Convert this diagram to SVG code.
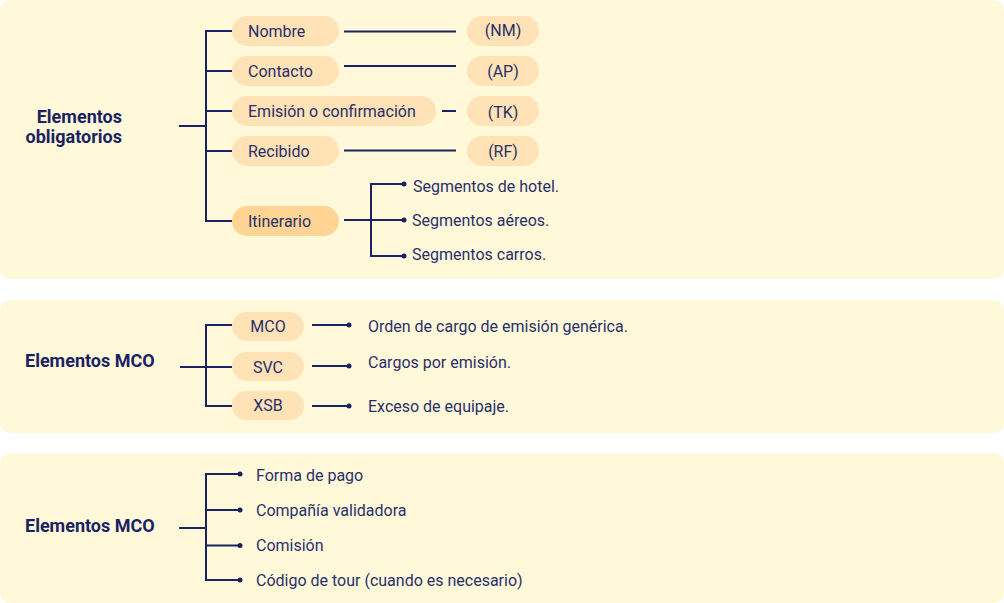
<svg xmlns="http://www.w3.org/2000/svg" width="1004" height="603" viewBox="0 0 1004 603">
  <defs>
    <style>
      .panel { fill: #FFF9DA; }
      .pill { fill: #FFE2B6; }
      .pill-strong { fill: #FFD596; }
      .ln { stroke: #1B2262; stroke-width: 2; fill: none; }
      .dot { fill: #1B2262; }
      .t { font-family: Roboto, "Liberation Sans", sans-serif; font-size: 16px; fill: #2A2F6A; }
      .mid { text-anchor: middle; }
      .title { font-family: Roboto, "Liberation Sans", sans-serif; font-size: 18px; font-weight: bold; fill: #1B2262; }
    </style>
  </defs>
  <rect width="1004" height="603" fill="#FFFFFF"/>

  <!-- panels -->
  <rect class="panel" x="0" y="0" width="1004" height="279" rx="10"/>
  <rect class="panel" x="0" y="300" width="1004" height="133" rx="10"/>
  <rect class="panel" x="0" y="453" width="1004" height="150" rx="10"/>

  <!-- connectors -->
  <g id="connectors">
    <!-- section 1 tree -->
    <path class="ln" d="M179 126H206M232 31H206V221H232M206 71H232M206 111H232M206 151H232"/>
    <path class="ln" d="M344 31.5H456M344 66H456M442 111H456M344 150.5H456"/>
    <path class="ln" d="M344 220H404M404 184H371V256H404"/>
    <circle class="dot" cx="404" cy="184" r="2.5"/>
    <circle class="dot" cx="404" cy="220" r="2.5"/>
    <circle class="dot" cx="404" cy="256" r="2.5"/>
    <!-- section 2 tree -->
    <path class="ln" d="M180 367H206M232 325H206V406H232M206 367H232"/>
    <path class="ln" d="M312 325H349M312 366H349M312 406H349"/>
    <circle class="dot" cx="349" cy="325" r="2.5"/>
    <circle class="dot" cx="349" cy="366" r="2.5"/>
    <circle class="dot" cx="349" cy="406" r="2.5"/>
    <!-- section 3 tree -->
    <path class="ln" d="M179 528H206M240 474H206V580H240M206 510H240M206 545.5H240"/>
    <circle class="dot" cx="240" cy="474" r="2.5"/>
    <circle class="dot" cx="240" cy="510" r="2.5"/>
    <circle class="dot" cx="240" cy="545.5" r="2.5"/>
    <circle class="dot" cx="240" cy="580" r="2.5"/>
  </g>

  <!-- section 1 -->
  <g id="obligatorios">
    <text class="title" x="122" y="123" text-anchor="end">Elementos</text>
    <text class="title" x="122" y="143" text-anchor="end">obligatorios</text>
  </g>
  <g id="nombre">
    <rect class="pill" x="232" y="16" width="107" height="30" rx="15"/>
    <text class="t" x="248" y="36.5">Nombre</text>
  </g>
  <g id="contacto">
    <rect class="pill" x="232" y="56" width="107" height="30" rx="15"/>
    <text class="t" x="248" y="76.5">Contacto</text>
  </g>
  <g id="emision">
    <rect class="pill" x="232" y="96" width="204" height="30" rx="15"/>
    <text class="t" x="248" y="116.5">Emisión o confirmación</text>
  </g>
  <g id="recibido">
    <rect class="pill" x="232" y="136" width="107" height="30" rx="15"/>
    <text class="t" x="248" y="156.5">Recibido</text>
  </g>
  <g id="itinerario">
    <rect class="pill-strong" x="232" y="206" width="107" height="30" rx="15"/>
    <text class="t" x="248" y="226.5">Itinerario</text>
  </g>
  <g id="nm">
    <rect class="pill" x="467" y="16" width="72" height="30" rx="15"/>
    <text class="t mid" x="503" y="36">(NM)</text>
  </g>
  <g id="ap">
    <rect class="pill" x="467" y="56" width="72" height="30" rx="15"/>
    <text class="t mid" x="503" y="76.5">(AP)</text>
  </g>
  <g id="tk">
    <rect class="pill" x="467" y="96" width="72" height="30" rx="15"/>
    <text class="t mid" x="503" y="118">(TK)</text>
  </g>
  <g id="rf">
    <rect class="pill" x="467" y="136" width="72" height="30" rx="15"/>
    <text class="t mid" x="503" y="156.5">(RF)</text>
  </g>
  <g id="segmentos">
    <text class="t" x="413" y="192">Segmentos de hotel.</text>
    <text class="t" x="412" y="226">Segmentos aéreos.</text>
    <text class="t" x="412" y="260">Segmentos carros.</text>
  </g>

  <!-- section 2 -->
  <g id="mco-title">
    <text class="title" x="25" y="367">Elementos MCO</text>
  </g>
  <g id="mco">
    <rect class="pill" x="232" y="312" width="72" height="29" rx="14.5"/>
    <text class="t mid" x="268" y="332">MCO</text>
    <text class="t" x="368" y="332">Orden de cargo de emisión genérica.</text>
  </g>
  <g id="svc">
    <rect class="pill" x="232" y="352" width="72" height="29" rx="14.5"/>
    <text class="t mid" x="268" y="372.5">SVC</text>
    <text class="t" x="368" y="367.5">Cargos por emisión.</text>
  </g>
  <g id="xsb">
    <rect class="pill" x="232" y="391" width="72" height="29" rx="14.5"/>
    <text class="t mid" x="268" y="411">XSB</text>
    <text class="t" x="368" y="411.5">Exceso de equipaje.</text>
  </g>

  <!-- section 3 -->
  <g id="mco-title-2">
    <text class="title" x="25" y="532">Elementos MCO</text>
  </g>
  <g id="items">
    <text class="t" x="256" y="481">Forma de pago</text>
    <text class="t" x="256" y="516">Compañía validadora</text>
    <text class="t" x="256" y="551">Comisión</text>
    <text class="t" x="256" y="585.5">Código de tour (cuando es necesario)</text>
  </g>
</svg>
